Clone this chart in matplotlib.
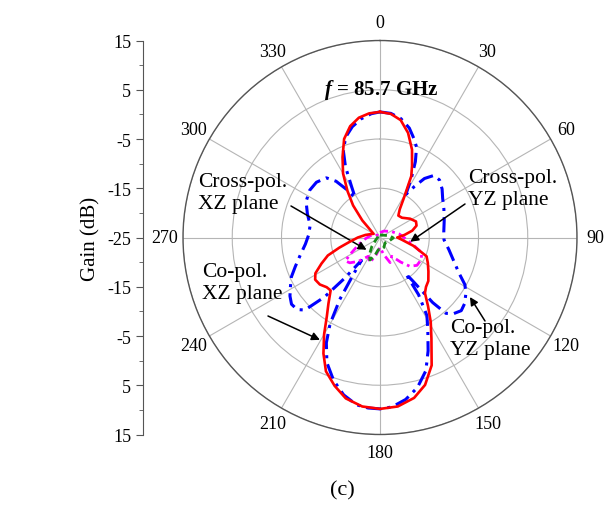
import numpy as np
import matplotlib
matplotlib.use("Agg")
import matplotlib.pyplot as plt
from matplotlib.ticker import FuncFormatter, MultipleLocator

plt.rcParams['font.family'] = ['Liberation Serif', 'DejaVu Serif']
plt.rcParams['mathtext.fontset'] = 'custom'
plt.rcParams['mathtext.it'] = 'Liberation Serif:italic:bold'
plt.rcParams['mathtext.rm'] = 'Liberation Serif:bold'

# radiation patterns at 85.7 GHz, angle in degrees, gain in dB
ang_co_xz = [0, 5, 10, 15, 20, 24, 27, 31, 35, 40, 48, 58, 66, 72, 78, 84, 90, 96,
             104, 112, 118, 125, 132, 137, 141, 145, 149, 153, 158, 163, 168, 174,
             180, 186, 192, 197, 202, 206, 210, 214, 218, 223, 227, 232, 237, 241,
             246, 251, 256, 262, 270, 280, 290, 300, 308, 314, 320, 325, 330, 335,
             340, 345, 350, 355, 360]
gain_co_xz = [0.5, 0.2, -0.8, -3, -6, -9, -11, -15.5, -18, -19.2, -19, -17.8, -17,
              -17.2, -18.3, -20, -21.5, -20.5, -18, -14.8, -14, -13, -11.8, -11.3,
              -10.5, -8, -5, -2, 3, 6.3, 8.3, 9.5, 9.8, 9.5, 8.4, 6.5, 4.3, 1.2,
              -2.3, -5.7, -8, -10.3, -10.2, -9.5, -9.3, -10, -12, -13.8, -16.5,
              -18.8, -20.5, -22, -23, -23.5, -22.5, -20, -16.5, -13.5, -10, -7,
              -3.7, -1.6, -0.3, 0.3, 0.5]

ang_co_yz = [0, 5, 10, 15, 19, 22, 25, 28, 31, 34, 37, 41, 46, 52, 58, 66, 75, 85,
             92, 100, 108, 114, 119, 123, 128, 132, 136, 139, 141, 143, 144.5, 146,
             149, 153, 157, 161, 166, 171, 176, 180, 184, 188, 193, 198, 203, 207,
             210, 213, 216, 219, 221, 223, 226, 229, 233, 237, 241, 246, 251, 257,
             265, 272, 280, 288, 296, 304, 311, 318, 322, 325, 328, 331, 334, 337,
             341, 346, 351, 356, 360]
gain_co_yz = [0.5, 0.3, -0.5, -2, -3.8, -5.2, -8, -11.5, -14.8, -12.5, -10, -8.3,
              -8.2, -9, -10, -10.8, -11.5, -12, -12, -10.8, -9.2, -7.5, -5.3, -4.2,
              -3.2, -2.8, -3.5, -4.6, -8, -14, -16, -11, -6.5, -3.6, 0, 3.6, 6.4,
              8.3, 9.5, 9.8, 9.7, 9.3, 7.8, 5.5, 2.6, -1, -4.7, -10, -16, -19, -14,
              -8.5, -3.8, -2.7, -2.5, -3.2, -4.2, -5.3, -6.8, -8.3, -9.8, -10.5,
              -10.6, -9.5, -8.3, -7.8, -7.9, -8.7, -10.5, -13, -15.5, -13, -9, -6,
              -3.5, -1.8, -0.6, 0.2, 0.5]

ang_x_yz = [0, 30, 60, 80, 95, 103, 110, 118, 127, 134, 140, 148, 158, 168, 180,
            192, 202, 212, 222, 230, 236, 242, 252, 265, 280, 300, 330, 360]
gain_x_yz = [-24, -23.5, -22.5, -21, -19.5, -18, -16, -15.5, -15.6, -16.6, -18.5,
             -20.5, -19.5, -21.5, -23, -21.5, -19.5, -20.5, -18.5, -17, -16.5,
             -18.5, -20.5, -22, -23, -24, -24.5, -24]

ang_x_xz = [0, 45, 80, 92, 110, 135, 160, 175, 188, 196, 204, 212, 222, 240, 270,
            315, 360]
gain_x_xz = [-24.5, -24.3, -23, -22.3, -23, -23.5, -22.8, -22.5, -22.5, -21.2, -20,
             -21, -22.5, -24, -24.5, -24.5, -24.5]

r_min, r_max = -25, 15
theta_ticks = np.arange(0, 360, 30)

W, H = 611, 506
fig = plt.figure(figsize=(W / 100, H / 100), dpi=100)

cx, cy, rad = 380, 238.5, 197
ax = fig.add_axes([(cx - rad) / W, (H - cy - rad) / H, 2 * rad / W, 2 * rad / H],
                  projection='polar')
ax.set_theta_zero_location('N')
ax.set_theta_direction(-1)
ax.set_ylim(r_min, r_max)
ax.set_yticks([-15, -5, 5, 15])
ax.set_yticklabels([])
ax.set_xticks(np.deg2rad(theta_ticks))
ax.set_xticklabels([str(t) for t in theta_ticks], fontsize=13)
ax.set_xticks(np.deg2rad(theta_ticks + 15), minor=True)
ax.tick_params(axis='x', which='major', length=0, pad=6)
ax.tick_params(axis='x', which='minor', direction='in', length=5, color='#555555')
ax.grid(True, color='#b5b5b5', lw=0.8)
ax.spines['polar'].set_color('#555555')
ax.spines['polar'].set_linewidth(1.0)

ax.plot(np.deg2rad(ang_co_yz), gain_co_yz, color='#0000ff', lw=2.2,
        dashes=(5, 2, 1, 2), zorder=3)
ax.plot(np.deg2rad(ang_x_yz), gain_x_yz, color='#ff00ff', lw=2.0,
        dashes=(3, 1.5, 1, 1.5), zorder=3)
ax.plot(np.deg2rad(ang_x_xz), gain_x_xz, color='#1a8a1a', lw=2.0,
        dashes=(2.5, 1.5), zorder=3)
ax.plot(np.deg2rad(ang_co_xz), gain_co_xz, color='#ff0000', lw=1.9, zorder=4)

# linear gain scale on the left, mirrored about the centre
lax = fig.add_axes([143 / W, (H - cy - rad) / H, 0.0001, 2 * rad / H])
lax.set_ylim(-(r_max - r_min), r_max - r_min)
lax.yaxis.set_major_locator(MultipleLocator(10))
lax.yaxis.set_minor_locator(MultipleLocator(5))
lax.yaxis.set_major_formatter(FuncFormatter(lambda v, p: f"{abs(v) + r_min:g}"))
lax.tick_params(axis='y', which='major', length=5, labelsize=13, color='#555555')
lax.tick_params(axis='y', which='minor', length=3, color='#555555')
lax.set_xticks([])
for s in ('top', 'right', 'bottom'):
    lax.spines[s].set_visible(False)
lax.spines['left'].set_color('#555555')
lax.patch.set_visible(False)
lax.set_ylabel('Gain (dB)', fontsize=15, labelpad=5)

fig.text(381 / W, 1 - 90 / H, r'$\mathit{f}$ = 85.7 GHz', fontsize=15,
         fontweight='bold', ha='center', va='center')

labels = [
    ('Cross-pol.\nXZ plane', 198, 177, 291, 207, 227.5, -21.3),
    ('Cross-pol.\nYZ plane', 468, 173, 465, 205, 98, -18.8),
    ('Co-pol.\nXZ plane', 202, 267, 268, 317, 210.4, -0.9),
    ('Co-pol.\nYZ plane', 450, 323, 485, 322, 123.5, -3.1),
]
for txt, tx, ty, ax0, ay0, th, rr in labels:
    fig.text(tx / W, 1 - (ty - 4) / H, txt, fontsize=15.5, ha='left', va='top',
             linespacing=1.2)
    ax.annotate('', xy=(np.deg2rad(th), rr), xycoords='data',
                xytext=(ax0, H - ay0), textcoords='figure pixels',
                arrowprops=dict(arrowstyle='-|>', color='black', lw=1.1,
                                mutation_scale=12, shrinkA=0, shrinkB=0))

fig.text(342 / W, 1 - 491 / H, '(c)', fontsize=16, ha='center', va='center')

fig.savefig('out.png', dpi=100)
